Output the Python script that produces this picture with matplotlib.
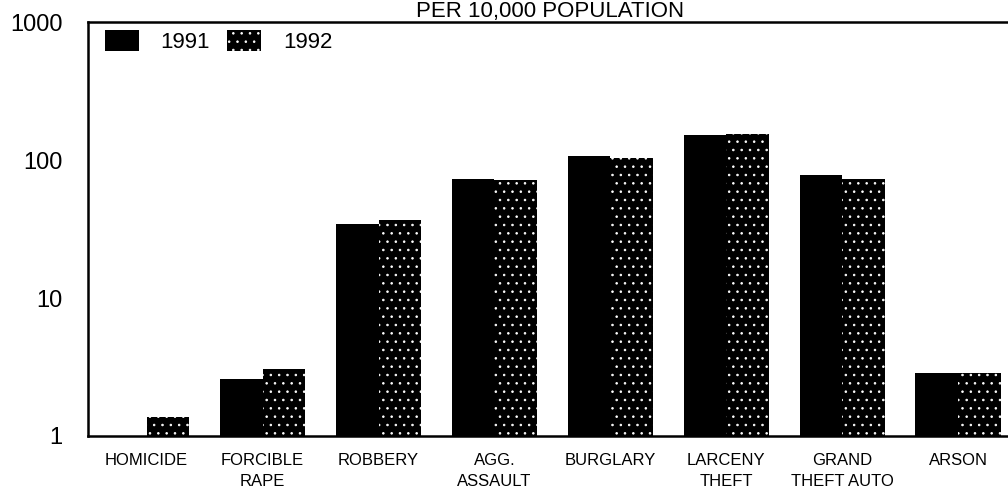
import matplotlib
matplotlib.use("Agg")
import matplotlib.pyplot as plt
from matplotlib.patches import Rectangle
import numpy as np

categories = ["HOMICIDE", "FORCIBLE\nRAPE", "ROBBERY", "AGG.\nASSAULT", "BURGLARY",
              "LARCENY\nTHEFT", "GRAND\nTHEFT AUTO", "ARSON"]
rate_1991 = [0.9, 2.6, 34.2, 72.8, 107, 152, 77.4, 2.83]
rate_1992 = [1.36, 3.03, 36.9, 72.0, 104, 155, 72.5, 2.83]
series_labels = ["1991", "1992"]
yticks = [1, 10, 100, 1000]
title = "PER 10,000 POPULATION"

plt.rcParams['font.family'] = ['Liberation Sans', 'DejaVu Sans']
plt.rcParams['hatch.linewidth'] = 0.6

W, H = 1008, 492
fig = plt.figure(figsize=(W/100, H/100), dpi=100)
ax = fig.add_axes([88/W, 1 - 436/H, 1 - 88/W, (436 - 22)/H])

x = np.arange(len(categories))
w = 0.368
ax.bar(x - w/2, rate_1991, width=w, color="black", edgecolor="black", linewidth=0, bottom=0.01)
ax.bar(x + w/2, rate_1992, width=w, color="black", edgecolor="white", hatch="..", linewidth=0, bottom=0.01)

ax.set_yscale("log")
ax.set_ylim(1, 1000)
ax.set_xlim(-0.506, 7.43)
ax.set_yticks(yticks)
ax.set_yticklabels([str(v) for v in yticks], fontsize=17)
ax.tick_params(axis="y", which="major", length=0, pad=18.5)
ax.tick_params(axis="y", which="minor", length=0)
ax.set_xticks(x)
ax.set_xticklabels(categories, fontsize=12, linespacing=1.45, va="top")
ax.tick_params(axis="x", length=0, pad=12.5)

for s in ["left", "top", "bottom"]:
    ax.spines[s].set_linewidth(1.8)
ax.spines["right"].set_visible(False)

# legend drawn in figure pixel coordinates
hatches = [None, ".."]
box_x = [105, 227]
text_x = [160, 283]
for bx, tx, lab, hch in zip(box_x, text_x, series_labels, hatches):
    fig.patches.append(Rectangle((bx/W, 1 - 51/H), 34/W, 21/H, transform=fig.transFigure,
                                 facecolor="black", edgecolor="white" if hch else "black",
                                 hatch=hch, linewidth=0))
    fig.text(tx/W, 1 - 43/H, lab, fontsize=16, ha="left", va="center")

fig.text(550/W, 1 - 1/H, title, fontsize=16, ha="center", va="top")

fig.savefig("out.png", dpi=100)
